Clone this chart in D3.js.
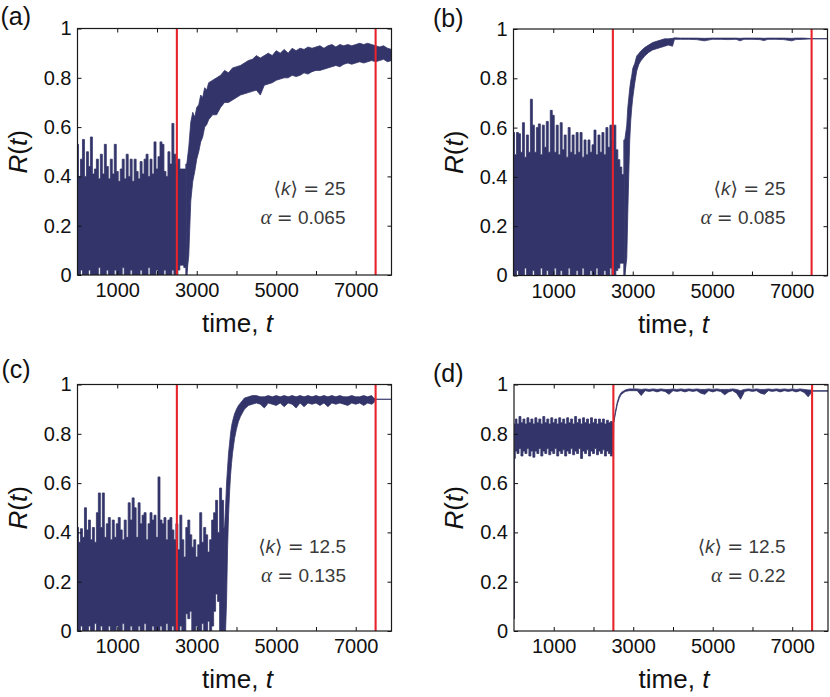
<!DOCTYPE html>
<html>
  <head>
    <meta charset="UTF-8" />
    <title>R(t) time series, four panels</title>
    <style>
      body,
      html {
        margin: 0;
        padding: 0;
        background: #fff;
        overflow: hidden;
      }
      svg {
        display: block;
      }
      .tick-label {
        font-family: "Liberation Sans", Arial, sans-serif;
        font-size: 20px;
        fill: #111;
      }
      .axis-title {
        font-family: "Liberation Sans", Arial, sans-serif;
        font-size: 26px;
        fill: #111;
      }
      .panel-label {
        font-family: "Liberation Sans", Arial, sans-serif;
        font-size: 25px;
        fill: #111;
      }
      .note {
        font-family: "Liberation Sans", Arial, sans-serif;
        font-size: 19px;
        fill: #3a3a3a;
      }
    </style>
  </head>
  <body>
    <script src="https://d3js.org/d3.v7.min.js"></script>
    <script>
      // values: [time, lower edge, upper edge] of the R(t) trace
      const seriesA = [
        [0,0,.53],[50,0,.40],[100,.02,.47],[150,0,.55],[200,0,.40],[250,0,.50],[300,.02,.44],[350,0,.56],[400,0,.41],[450,0,.43],
        [500,0,.47],[550,.03,.39],[600,0,.49],[650,0,.41],[700,0,.53],[750,.02,.44],[800,0,.39],[850,0,.47],[900,0,.41],[950,.02,.53],
        [1000,0,.42],[1050,0,.38],[1100,0,.43],[1150,.03,.47],[1200,0,.39],[1250,0,.49],[1300,0,.40],[1350,.02,.47],[1400,0,.38],[1450,0,.47],
        [1500,0,.42],[1550,0,.39],[1600,.02,.46],[1650,0,.41],[1700,0,.47],[1750,0,.49],[1800,.03,.40],[1850,0,.47],[1900,0,.41],[1950,0,.54],
        [2000,.02,.43],[2050,0,.48],[2100,0,.54],[2150,0,.53],[2200,.02,.42],[2250,0,.40],[2300,0,.50],[2350,0,.45],[2400,.02,.615],[2450,0,.49],
        [2500,0,.45],[2550,.02,.47],[2600,.04,.43],[2650,.04,.43],[2700,.03,.43],[2750,0,.45],
        [2800,.08,.52],[2850,.30,.62],[2900,.38,.66],[2950,.42,.64],[3000,.47,.68],[3050,.50,.69],[3100,.54,.73],[3150,.56,.72],[3200,.60,.76],[3250,.61,.75],
        [3300,.63,.78],[3400,.65,.79],[3500,.65,.80],[3600,.68,.81],[3700,.70,.83],[3800,.70,.82],[3900,.71,.84],[4000,.72,.845],[4100,.73,.85],[4200,.735,.86],
        [4300,.74,.87],[4400,.745,.875],[4500,.75,.89],[4600,.73,.88],[4700,.77,.89],[4800,.775,.90],[4900,.78,.89],[5000,.79,.91],[5100,.795,.90],[5200,.80,.915],
        [5300,.80,.90],[5400,.81,.92],[5500,.805,.91],[5600,.81,.92],[5700,.82,.915],[5800,.815,.925],[5900,.825,.92],[6000,.83,.925],[6100,.83,.93],[6200,.835,.92],
        [6300,.84,.93],[6400,.845,.935],[6500,.85,.925],[6600,.845,.935],[6700,.855,.93],[6800,.86,.935],[6900,.855,.93],[7000,.86,.935],[7100,.865,.94],[7200,.86,.935],
        [7300,.865,.94],[7400,.87,.935],[7500,.865,.93],[7600,.87,.925],[7700,.875,.93],[7800,.865,.92],[7900,.87,.915]
      ];

      const seriesB = [
        [0,0,.58],[50,0,.49],[100,.02,.58],[150,0,.575],[200,0,.50],[250,0,.62],[300,.03,.48],[350,0,.57],[400,0,.50],[450,0,.715],
        [500,.02,.61],[550,0,.50],[600,0,.60],[650,0,.615],[700,.03,.49],[750,0,.61],[800,0,.52],[850,.02,.625],[900,0,.50],[950,0,.67],
        [1000,0,.65],[1050,.03,.50],[1100,0,.61],[1150,0,.49],[1200,.02,.62],[1250,0,.51],[1300,0,.57],[1350,0,.48],[1400,.03,.60],[1450,0,.50],
        [1500,0,.57],[1550,0,.49],[1600,.02,.58],[1650,0,.50],[1700,0,.58],[1750,.03,.48],[1800,0,.55],[1850,0,.49],[1900,0,.55],[1950,.02,.50],
        [2000,0,.53],[2050,0,.59],[2100,.03,.49],[2150,0,.57],[2200,0,.50],[2250,0,.58],[2300,.02,.49],[2350,0,.60],[2400,0,.52],[2450,.03,.61],
        [2500,0,.55],[2550,0,.61],[2600,.02,.51],[2650,.03,.47],[2700,.05,.44],[2750,.05,.41],[2800,0,.55],
        [2850,.07,.61],[2875,.25,.68],[2900,.41,.72],[2925,.55,.76],[2950,.63,.79],[2975,.68,.81],[3000,.72,.84],[3050,.78,.86],[3100,.83,.89],[3150,.855,.90],
        [3200,.87,.91],[3300,.89,.925],[3400,.905,.935],[3500,.915,.945],[3600,.92,.95],[3700,.925,.955],[3800,.93,.96],[3900,.935,.96],[4000,.93,.962],[4050,.958,.964],
        [4200,.958,.963],[4400,.958,.963],[4600,.957,.963],[4800,.952,.962],[5000,.958,.963],[5200,.958,.963],[5400,.957,.963],[5600,.958,.963],[5700,.952,.962],[5800,.958,.963],
        [6000,.958,.963],[6200,.957,.963],[6300,.953,.962],[6400,.958,.963],[6600,.958,.963],[6800,.957,.963],[7000,.952,.962],[7100,.957,.963],[7300,.958,.963],[7500,.96,.961],
        [7900,.96,.961]
      ];

      const seriesC = [
        [0,0,.42],[50,0,.36],[100,.02,.415],[150,0,.38],[200,0,.50],[250,0,.41],[300,.02,.45],[350,0,.37],[400,0,.42],[450,.03,.36],
        [500,0,.48],[550,0,.56],[600,.02,.42],[650,0,.56],[700,0,.38],[750,0,.435],[800,.02,.46],[850,0,.37],[900,0,.45],[950,0,.38],
        [1000,.02,.435],[1050,0,.46],[1100,0,.41],[1150,.03,.37],[1200,0,.45],[1250,0,.38],[1300,0,.52],[1350,.02,.45],[1400,0,.54],[1450,0,.50],
        [1500,0,.38],[1550,.02,.52],[1600,0,.435],[1650,0,.47],[1700,.03,.48],[1750,0,.37],[1800,0,.435],[1850,0,.48],[1900,.02,.45],[1950,0,.47],
        [2000,0,.38],[2050,0,.625],[2100,.02,.45],[2150,0,.435],[2200,0,.46],[2250,.03,.37],[2300,0,.45],[2350,0,.46],[2400,.02,.41],[2450,0,.37],
        [2500,0,.435],[2550,0,.33],[2600,.02,.47],[2650,0,.37],[2700,0,.30],[2750,.07,.42],[2800,.05,.45],[2850,.08,.39],[2900,0,.34],[2950,0,.37],
        [3000,.02,.30],[3050,0,.35],[3100,0,.48],[3150,.03,.36],[3200,0,.42],[3250,0,.39],[3300,.04,.32],[3350,0,.37],[3400,.02,.45],[3450,.08,.48],
        [3500,.15,.53],[3550,.12,.40],[3600,0,.58],[3650,0,.53],[3700,0,.42],
        [3725,0,.50],[3750,.12,.60],[3775,.33,.66],[3800,.47,.72],[3825,.56,.76],[3850,.63,.80],[3875,.68,.83],[3900,.72,.85],[3950,.78,.88],[4000,.82,.90],
        [4050,.85,.915],[4100,.87,.925],[4150,.885,.935],[4200,.90,.945],[4300,.915,.95],[4400,.92,.955],
        [4500,.925,.955],[4600,.92,.95],[4700,.905,.95],[4800,.925,.955],[4900,.92,.95],[5000,.915,.955],[5100,.925,.95],[5200,.91,.955],[5300,.925,.95],[5400,.92,.955],
        [5500,.905,.95],[5600,.925,.955],[5700,.91,.95],[5800,.925,.955],[5900,.92,.95],[6000,.925,.955],[6100,.915,.95],[6200,.925,.955],[6300,.91,.95],[6400,.925,.955],
        [6500,.92,.95],[6600,.925,.955],[6700,.92,.95],[6800,.915,.95],[6900,.925,.955],[7000,.92,.95],[7100,.925,.95],[7200,.915,.955],[7300,.925,.95],[7400,.92,.955],
        [7450,.925,.945],[7500,.94,.94],[7900,.94,.94]
      ];

      const seriesD = [
        [0,.05,.05],[15,.70,.84],[50,.73,.86],[100,.72,.84],[150,.74,.87],[200,.71,.845],[250,.73,.86],[300,.72,.84],[350,.74,.865],[400,.71,.845],[450,.73,.86],
        [500,.705,.84],[550,.73,.865],[600,.72,.845],[650,.74,.86],[700,.71,.84],[750,.73,.87],[800,.72,.845],[850,.74,.86],[900,.715,.84],[950,.73,.865],
        [1000,.72,.845],[1050,.74,.86],[1100,.71,.84],[1150,.73,.865],[1200,.72,.845],[1250,.735,.86],[1300,.71,.84],[1350,.73,.865],[1400,.72,.845],[1450,.74,.86],
        [1500,.715,.84],[1550,.73,.87],[1600,.72,.845],[1650,.74,.86],[1700,.70,.84],[1750,.73,.865],[1800,.72,.845],[1850,.735,.86],[1900,.71,.84],[1950,.73,.865],
        [2000,.72,.845],[2050,.74,.86],[2100,.715,.84],[2150,.73,.86],[2200,.72,.845],[2250,.735,.86],[2300,.71,.84],[2350,.73,.855],[2400,.72,.845],[2450,.71,.85],
        [2500,.72,.845],[2510,.845,.85],[2550,.88,.89],[2600,.92,.93],[2650,.945,.955],[2700,.96,.968],[2800,.972,.978],[2900,.975,.982],[3000,.975,.982],
        [3100,.975,.982],[3200,.955,.98],[3300,.975,.982],[3400,.972,.98],[3500,.975,.982],[3600,.97,.98],[3700,.975,.982],[3800,.972,.98],[3900,.96,.98],[4000,.975,.982],
        [4100,.972,.98],[4200,.975,.982],[4300,.97,.98],[4400,.975,.982],[4500,.972,.98],[4600,.975,.982],[4700,.965,.98],[4800,.96,.98],[4900,.975,.982],[5000,.97,.98],
        [5100,.975,.982],[5200,.972,.98],[5300,.958,.98],[5400,.97,.98],[5500,.975,.982],[5600,.965,.98],[5700,.94,.975],[5750,.955,.978],[5800,.972,.98],[5900,.975,.982],
        [6000,.972,.98],[6100,.975,.982],[6200,.965,.98],[6300,.96,.98],[6400,.975,.982],[6500,.972,.98],[6600,.975,.982],[6700,.97,.98],[6800,.975,.982],[6900,.972,.98],
        [7000,.975,.982],[7100,.97,.98],[7200,.975,.982],[7300,.968,.98],[7400,.95,.978],[7450,.96,.978],[7500,.973,.975],[7900,.973,.975]
      ];

      const panelLetters = ["a", "b", "c", "d"];
      const meanDegree = ["25", "25", "12.5", "12.5"];
      const alphaValues = ["0.065", "0.085", "0.135", "0.22"];
      // end of the noisy (disordered) stretch in each panel
      const noisyUntil = [2750, 2800, 3700, 2500];
      const switchTimes = [2500, 7500];
      const xTicks = [1000, 2000, 3000, 4000, 5000, 6000, 7000];
      const xTickLabels = [1000, 3000, 5000, 7000];
      const yTicks = [0, 0.2, 0.4, 0.6, 0.8, 1];

      const seriesList = [seriesA, seriesB, seriesC, seriesD];

      // layout (pixels)
      const plotW = 314;
      const plotH = 246.5;
      const layout = [
        { left: 77.5, top: 28.5, labelX: 0.5, labelY: 25, noteX: 345.5, noteY: 195 },
        { left: 513.5, top: 29, labelX: 433, labelY: 27, noteX: 785.5, noteY: 195 },
        { left: 77.5, top: 384.5, labelX: 1.5, labelY: 378, noteX: 346, noteY: 553 },
        { left: 514, top: 384.5, labelX: 433, labelY: 382, noteX: 785.5, noteY: 553 },
      ];

      const navy = "#33356a";
      const red = "#e8232b";

      const svg = d3
        .select("body")
        .append("svg")
        .attr("width", 830)
        .attr("height", 697);

      const x = d3.scaleLinear().domain([0, 7900]).range([0, plotW]);
      const y = d3.scaleLinear().domain([0, 1]).range([plotH, 0]);

      const bandNoisy = d3
        .area()
        .curve(d3.curveStep)
        .x((d) => x(d[0]))
        .y0((d) => y(d[1]))
        .y1((d) => y(d[2]));
      const bandSmooth = d3
        .area()
        .x((d) => x(d[0]))
        .y0((d) => y(d[1]))
        .y1((d) => y(d[2]));

      const yFormat = (d) => (d === 0 || d === 1 ? String(d) : d3.format(".1f")(d));

      function addEquals(text) {
        text.append("tspan").text("\u00A0");
        text.append("tspan").attr("font-family", "DejaVu Sans").text("=");
        text.append("tspan").text("\u00A0");
      }

      layout.forEach((p, i) => {
        const g = svg
          .append("g")
          .attr("transform", `translate(${p.left},${p.top})`);

        g.append("clipPath")
          .attr("id", "clip" + i)
          .append("rect")
          .attr("width", plotW)
          .attr("height", plotH);

        const rows = seriesList[i];
        const cut = noisyUntil[i];
        const traces = [
          [rows.filter((r) => r[0] <= cut), bandNoisy],
          [rows.filter((r) => r[0] >= cut), bandSmooth],
        ];

        traces.forEach(([part, gen]) => {
          g.append("path")
            .datum(part)
            .attr("clip-path", `url(#clip${i})`)
            .attr("d", gen)
            .attr("fill", navy)
            .attr("stroke", navy)
            .attr("stroke-width", 0.8)
            .attr("stroke-linejoin", "round");
        });

        // red markers
        g.selectAll(".switch")
          .data(switchTimes)
          .enter()
          .append("line")
          .attr("class", "switch")
          .attr("x1", (d) => x(d))
          .attr("x2", (d) => x(d))
          .attr("y1", 0)
          .attr("y2", plotH)
          .attr("stroke", red)
          .attr("stroke-width", 2.1);

        // axes, ticks pointing inward
        const bottom = g
          .append("g")
          .attr("transform", `translate(0,${plotH})`)
          .call(
            d3
              .axisBottom(x)
              .tickValues(xTicks)
              .tickSize(-4)
              .tickSizeOuter(0)
              .tickPadding(8)
              .tickFormat((d) => (xTickLabels.includes(d) ? String(d) : ""))
          );
        const top = g.append("g").call(
          d3.axisTop(x).tickValues(xTicks).tickSize(-4).tickSizeOuter(0).tickFormat("")
        );
        const left = g.append("g").call(
          d3
            .axisLeft(y)
            .tickValues(yTicks)
            .tickSize(-4)
            .tickSizeOuter(0)
            .tickPadding(6)
            .tickFormat(yFormat)
        );
        const right = g
          .append("g")
          .attr("transform", `translate(${plotW},0)`)
          .call(
            d3.axisRight(y).tickValues(yTicks).tickSize(-4).tickSizeOuter(0).tickFormat("")
          );

        [bottom, top, left, right].forEach((a) => {
          a.select(".domain").remove();
          a.selectAll(".tick line").attr("stroke", "#111").attr("stroke-width", 1);
          a.selectAll(".tick text")
            .attr("class", "tick-label")
            .attr("font-family", null)
            .attr("font-size", null)
            .attr("fill", null);
          a.attr("font-family", null).attr("font-size", null);
        });

        // frame
        g.append("rect")
          .attr("width", plotW)
          .attr("height", plotH)
          .attr("fill", "none")
          .attr("stroke", "#1a1a1a")
          .attr("stroke-width", 1.2);

        // axis titles
        const xt = g
          .append("text")
          .attr("class", "axis-title")
          .attr("x", plotW / 2 + 3)
          .attr("y", plotH + 57)
          .attr("text-anchor", "middle");
        xt.append("tspan").text("time, ");
        xt.append("tspan").attr("font-style", "italic").text("t");

        const yt = g
          .append("text")
          .attr("class", "axis-title")
          .attr("transform", `translate(-51,${plotH / 2}) rotate(-90)`)
          .attr("text-anchor", "middle");
        yt.append("tspan").attr("font-style", "italic").text("R");
        yt.append("tspan").text("(");
        yt.append("tspan").attr("font-style", "italic").text("t");
        yt.append("tspan").text(")");

        // annotation
        const n1 = svg
          .append("text")
          .attr("class", "note")
          .attr("x", p.noteX)
          .attr("y", p.noteY)
          .attr("text-anchor", "end");
        n1.append("tspan").attr("font-family", "DejaVu Sans").text("\u27E8");
        n1.append("tspan").attr("font-style", "italic").text("k");
        n1.append("tspan").attr("font-family", "DejaVu Sans").text("\u27E9");
        addEquals(n1);
        n1.append("tspan").text(meanDegree[i]);

        const n2 = svg
          .append("text")
          .attr("class", "note")
          .attr("x", p.noteX)
          .attr("y", p.noteY + 29)
          .attr("text-anchor", "end");
        n2.append("tspan")
          .attr("font-family", "Liberation Serif")
          .attr("font-style", "italic")
          .attr("font-size", "21px")
          .text("\u03B1");
        addEquals(n2);
        n2.append("tspan").text(alphaValues[i]);

        // panel letter
        svg
          .append("text")
          .attr("class", "panel-label")
          .attr("x", p.labelX)
          .attr("y", p.labelY)
          .text(`(${panelLetters[i]})`);
      });
    </script>
  </body>
</html>
